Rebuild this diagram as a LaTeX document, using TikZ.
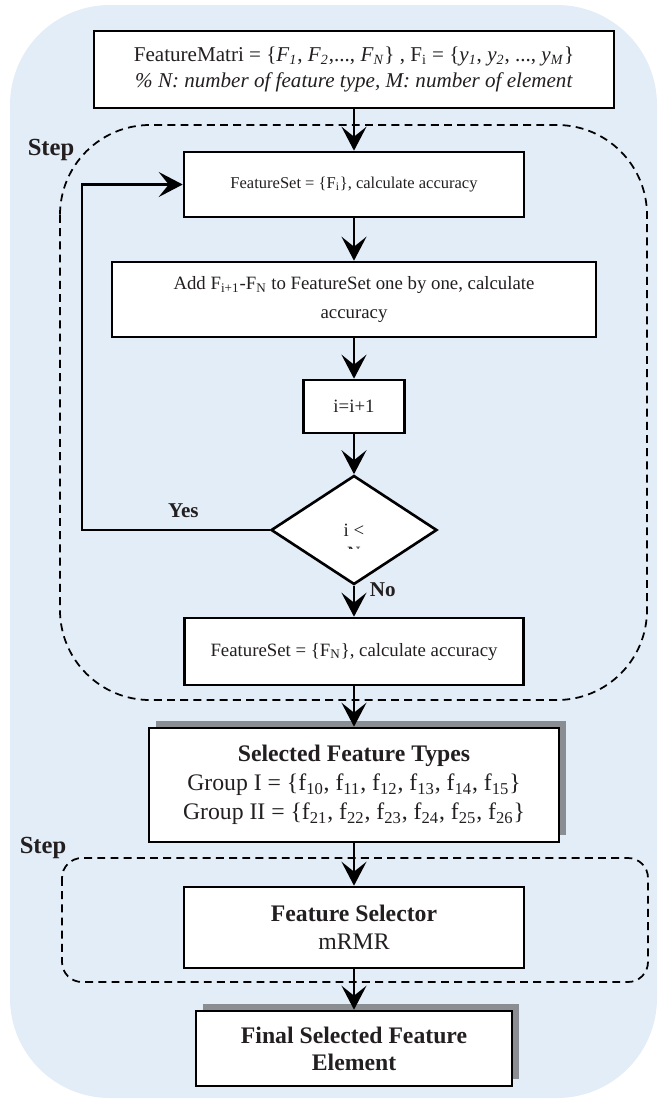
\documentclass[tikz,border=0pt]{standalone}
\usepackage{fontspec}
\setmainfont{Liberation Serif}
\usetikzlibrary{arrows.meta,shapes.geometric,shadows}
\definecolor{panelblue}{RGB}{227,237,247}
\definecolor{shadowgray}{RGB}{138,141,146}
\definecolor{inkgray}{RGB}{35,31,32}
\newcommand{\itsub}[2]{\textit{#1}\textsubscript{\textit{#2}}}
\begin{document}
\begin{tikzpicture}[x=0.02cm, y=-0.02cm,
        box/.style={draw=black, line width=1.5pt, fill=white, text=inkgray, align=center, inner sep=2pt},
        shadowbox/.style={box, drop shadow={shadow xshift=0.14cm, shadow yshift=0.14cm, fill=shadowgray, opacity=1}},
        flow/.style={line width=1.5pt, -{Stealth[length=0.48cm, width=0.5cm, inset=0.2cm]}},
        stepline/.style={line width=1pt, dash pattern=on 4.5pt off 3pt},
        steplabel/.style={text=inkgray, font=\fontsize{14}{16}\selectfont\bfseries},
        answer/.style={text=inkgray, font=\fontsize{12}{14}\selectfont\bfseries}]
        \useasboundingbox (0,0) rectangle (660,1100);
        \fill [panelblue, rounded corners=2cm] (10,5) rectangle (657,1098);
        \draw [stepline, rounded corners=1.8cm] (60,125) rectangle (647,700);
        \draw [stepline, rounded corners=0.4cm] (62,858) rectangle (648,982);
        \node [steplabel] (step1) at (51,150) {Step};
        \node [steplabel] (step2) at (43,848) {Step};
        \node [box, minimum width=10.4cm, minimum height=1.54cm, font=\fontsize{12}{15}\selectfont] (mat) at (354,69.5)
            {FeatureMatri = \{\itsub{F}{1}, \itsub{F}{2},..., \itsub{F}{N}\} , F\textsubscript{i} = \{\itsub{y}{1}, \itsub{y}{2}, ..., \itsub{y}{M}\}\\
             \textit{\% N: number of feature type, M: number of element}};
        \node [box, minimum width=6.8cm, minimum height=1.3cm, font=\fontsize{9.4}{12}\selectfont] (fs0) at (354,184.5)
            {FeatureSet = \{F\textsubscript{i}\}, calculate accuracy};
        \node [box, minimum width=9.68cm, minimum height=1.5cm, font=\fontsize{10.7}{16}\selectfont] (addset) at (354,299.5)
            {Add F\textsubscript{i+1}-F\textsubscript{N} to FeatureSet one by one, calculate\\accuracy};
        \node [box, minimum width=2.02cm, minimum height=1.06cm, font=\fontsize{10.7}{13}\selectfont] (incr) at (354,406.5) {i=i+1};
        \node [box, diamond, minimum width=3.32cm, minimum height=2.18cm, inner sep=0pt, font=\fontsize{10.7}{13}\selectfont] (dec) at (354,530) {i <};
        \begin{scope}
            \clip (330,546.6) rectangle (380,548.2);
            \node [text=inkgray, font=\fontsize{10.7}{13}\selectfont] (bound) at (354,553.7) {N};
        \end{scope}
        \node [box, minimum width=6.78cm, minimum height=1.34cm, font=\fontsize{10.7}{13}\selectfont] (fsn) at (354,651.5)
            {FeatureSet = \{F\textsubscript{N}\}, calculate accuracy};
        \node [shadowbox, minimum width=8.2cm, minimum height=2.28cm, font=\fontsize{13.5}{16.5}\selectfont] (types) at (354,785)
            {\textbf{Selected Feature Types}\\
             Group I = \{f\textsubscript{10}, f\textsubscript{11}, f\textsubscript{12}, f\textsubscript{13}, f\textsubscript{14}, f\textsubscript{15}\}\\
             Group II = \{f\textsubscript{21}, f\textsubscript{22}, f\textsubscript{23}, f\textsubscript{24}, f\textsubscript{25}, f\textsubscript{26}\}};
        \node [box, minimum width=6.8cm, minimum height=1.62cm, font=\fontsize{13.5}{16}\selectfont] (selector) at (354,927.5)
            {\textbf{Feature Selector}\\mRMR};
        \node [shadowbox, minimum width=6.32cm, minimum height=1.5cm, font=\fontsize{13.5}{15.5}\selectfont\bfseries] (final) at (354,1048.5)
            {Final Selected Feature\\Element};
        \coordinate (loopx) at (82,530);
        \draw [flow] (mat) -- (fs0);
        \draw [flow] (fs0) -- (addset);
        \draw [flow] (addset) -- (incr);
        \draw [flow] (incr) -- (dec);
        \draw [flow] (dec.west) -- node [answer, above=3pt, pos=0.46] {Yes} (loopx) |- (fs0);
        \draw [flow] (dec) -- node [answer, right=5pt, pos=0.12] {No} (fsn);
        \draw [flow] (fsn) -- (types);
        \draw [flow] (types) -- (selector);
        \draw [flow] (selector) -- (final);
\end{tikzpicture}
\end{document}
